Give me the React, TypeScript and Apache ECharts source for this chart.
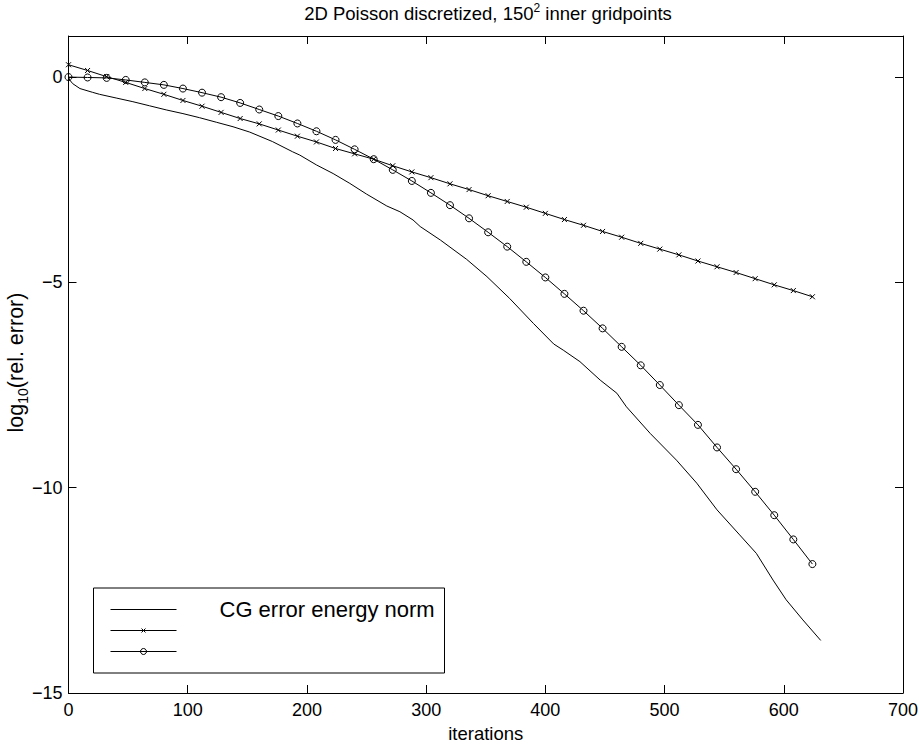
import React, { useEffect, useRef } from "react";
import * as echarts from "echarts";

const FONT = "'Liberation Sans', Arial, Helvetica, sans-serif";

// iterations at which the marked curves were sampled
const markerIters = [
  0, 16, 32, 48, 64, 80, 96, 112, 128, 144, 160, 176, 192, 208, 224, 240, 256, 272, 288, 304,
  320, 336, 352, 368, 384, 400, 416, 432, 448, 464, 480, 496, 512, 528, 544, 560, 576, 592, 608, 624,
];

// curve with "x" markers
const crossErr = [
  0.3, 0.16, 0.01, -0.13, -0.28, -0.42, -0.57, -0.71, -0.86, -1.01, -1.14, -1.29, -1.44, -1.58,
  -1.74, -1.87, -2.0, -2.16, -2.31, -2.45, -2.6, -2.74, -2.89, -3.03, -3.17, -3.32, -3.47, -3.61,
  -3.76, -3.9, -4.05, -4.19, -4.33, -4.48, -4.62, -4.76, -4.91, -5.06, -5.2, -5.35,
];

// curve with "o" markers
const circleErr = [
  0.0, -0.01, -0.02, -0.07, -0.13, -0.19, -0.28, -0.38, -0.49, -0.63, -0.79, -0.95, -1.13, -1.32,
  -1.53, -1.76, -2.0, -2.26, -2.53, -2.82, -3.12, -3.44, -3.78, -4.13, -4.5, -4.88, -5.28, -5.69,
  -6.12, -6.57, -7.02, -7.5, -7.99, -8.47, -9.02, -9.55, -10.1, -10.67, -11.26, -11.86,
];

// CG error energy norm (solid line)
const cgIter = [
  0, 1, 3.5, 9.6, 20, 26, 40, 54, 68, 82, 96, 110, 124, 138, 152, 171, 188, 194, 208, 222, 236,
  250, 267, 278, 289, 295, 312, 334, 351, 370, 390, 407, 415, 429, 446, 460, 468, 488, 510, 527,
  544, 563, 577, 591, 602, 616, 631,
];
const cgErr = [
  0.0, -0.07, -0.16, -0.28, -0.37, -0.42, -0.51, -0.6, -0.7, -0.8, -0.89, -0.99, -1.1, -1.21,
  -1.34, -1.57, -1.82, -1.9, -2.14, -2.35, -2.59, -2.85, -3.14, -3.28, -3.48, -3.64, -3.97, -4.44,
  -4.86, -5.39, -6.0, -6.5, -6.65, -6.93, -7.38, -7.7, -8.03, -8.68, -9.33, -9.89, -10.54, -11.15,
  -11.6, -12.25, -12.73, -13.22, -13.72,
];

const xTicks = { min: 0, max: 700, interval: 100 };
const yTicks = { min: -15, max: 1, interval: 5 };

const legendLabels = ["CG error energy norm", "", ""];

const TITLE = "2D Poisson discretized, 150{sup|2} inner gridpoints";
const Y_NAME = "log{sub|10}(rel. error)";
const X_NAME = "iterations";

export default function App() {
  const ref = useRef<HTMLDivElement>(null);

  useEffect(() => {
    if (!ref.current) return;
    const chart = echarts.init(ref.current, null, { renderer: "svg" });

    const axisCommon = {
      axisLine: { show: true, onZero: false, lineStyle: { color: "#000", width: 1 } },
      axisTick: { show: true, inside: true, length: 8, lineStyle: { color: "#000", width: 1 } },
      splitLine: { show: false },
    };
    const minus = (v: number) => (v === yTicks.max ? "" : String(v).replace("-", "\u2212"));

    const crossSym = "path://M0,0L10,10M10,0L0,10";

    const legendX0 = 110.5;
    const legendX1 = 176.5;
    const legendYs = [609.5, 630.5, 651.5];
    const legendMidX = (legendX0 + legendX1) / 2;

    const graphic: any[] = [
      {
        type: "text",
        x: 488,
        y: 13,
        style: {
          text: TITLE,
          fontFamily: FONT,
          fontSize: 18.5,
          fill: "#000",
          align: "center",
          verticalAlign: "middle",
          rich: {
            sup: { fontSize: 12, fontFamily: FONT, verticalAlign: "top", padding: [0, 0, 11, 0], fill: "#000" },
          },
        },
      },
      {
        type: "text",
        x: 16,
        y: 362.5,
        rotation: Math.PI / 2,
        style: {
          text: Y_NAME,
          fontFamily: FONT,
          fontSize: 21.5,
          fill: "#000",
          align: "center",
          verticalAlign: "middle",
          rich: {
            sub: { fontSize: 14, fontFamily: FONT, verticalAlign: "bottom", padding: [14, 0, 0, 0], fill: "#000" },
          },
        },
      },
      {
        type: "rect",
        shape: { x: 93.5, y: 588, width: 351, height: 85 },
        style: { fill: "#fff", stroke: "#000", lineWidth: 1 },
        z: 10,
      },
    ];
    legendYs.forEach((ly, i) => {
      graphic.push({
        type: "line",
        shape: { x1: legendX0, y1: ly, x2: legendX1, y2: ly },
        style: { stroke: "#000", lineWidth: 1 },
        z: 11,
      });
      if (legendLabels[i]) {
        graphic.push({
          type: "text",
          x: 219.5,
          y: ly,
          style: {
            text: legendLabels[i],
            fontFamily: FONT,
            fontSize: 22,
            fill: "#000",
            align: "left",
            verticalAlign: "middle",
          },
          z: 11,
        });
      }
    });
    // legend markers
    graphic.push(
      {
        type: "line",
        shape: { x1: legendMidX - 2, y1: legendYs[1] - 2, x2: legendMidX + 2, y2: legendYs[1] + 2 },
        style: { stroke: "#000", lineWidth: 1 },
        z: 12,
      },
      {
        type: "line",
        shape: { x1: legendMidX - 2, y1: legendYs[1] + 2, x2: legendMidX + 2, y2: legendYs[1] - 2 },
        style: { stroke: "#000", lineWidth: 1 },
        z: 12,
      },
      {
        type: "circle",
        shape: { cx: legendMidX, cy: legendYs[2], r: 3 },
        style: { fill: "none", stroke: "#000", lineWidth: 1 },
        z: 12,
      }
    );

    const option: any = {
      animation: false,
      backgroundColor: "#fff",
      grid: {
        left: 68.5,
        right: 16,
        top: 36,
        bottom: 56,
        containLabel: false,
        outerBoundsMode: "none",
      },
      xAxis: [
        {
          type: "value",
          ...xTicks,
          position: "bottom",
          name: X_NAME,
          nameLocation: "middle",
          nameGap: 31,
          nameMoveOverlap: false,
          nameTextStyle: { color: "#000", fontSize: 18.5, fontFamily: FONT },
          axisLabel: { color: "#000", fontSize: 18, fontFamily: FONT, margin: 8 },
          ...axisCommon,
        },
        {
          type: "value",
          ...xTicks,
          position: "top",
          axisLabel: { show: false },
          ...axisCommon,
        },
      ],
      yAxis: [
        {
          type: "value",
          ...yTicks,
          position: "left",
          axisLabel: {
            color: "#000",
            fontSize: 18,
            fontFamily: FONT,
            margin: 6,
            showMaxLabel: false,
            formatter: minus,
          },
          ...axisCommon,
        },
        {
          type: "value",
          ...yTicks,
          position: "right",
          axisLabel: { show: false },
          ...axisCommon,
        },
      ],
      graphic,
      series: [
        {
          name: "CG error energy norm",
          type: "line",
          data: cgIter.map((x, i) => [x, cgErr[i]]),
          showSymbol: false,
          symbol: "none",
          smooth: false,
          lineStyle: { color: "#000", width: 1 },
          z: 2,
        },
        {
          name: "cross",
          type: "line",
          data: markerIters.map((x, i) => [x, crossErr[i]]),
          symbol: crossSym,
          symbolSize: 5,
          itemStyle: { color: "transparent", borderColor: "#000", borderWidth: 1 },
          lineStyle: { color: "#000", width: 1 },
          z: 3,
        },
        {
          name: "circle",
          type: "line",
          data: markerIters.map((x, i) => [x, circleErr[i]]),
          symbol: "circle",
          symbolSize: 7,
          itemStyle: { color: "transparent", borderColor: "#000", borderWidth: 1 },
          lineStyle: { color: "#000", width: 1 },
          z: 4,
        },
      ],
    };
    chart.setOption(option);
    return () => chart.dispose();
  }, []);

  return (
    <div
      ref={ref}
      style={{ position: "fixed", left: 0, top: 0, width: 919, height: 749, background: "#fff" }}
    />
  );
}
